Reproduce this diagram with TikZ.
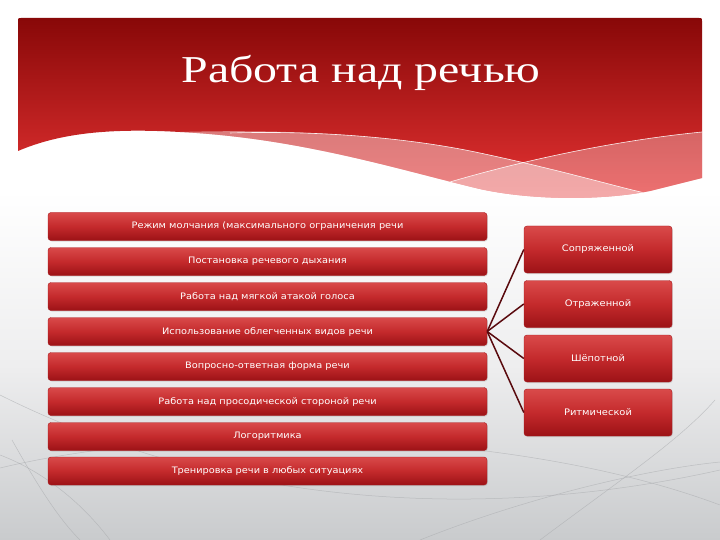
\documentclass[tikz,border=0pt]{standalone}
\usepackage{fontspec}
\setmainfont{Liberation Serif}
\newfontfamily\boxfont[FakeStretch=1.1]{DejaVu Sans}
\usetikzlibrary{shadows}
\definecolor{bgmid}{HTML}{EEEEEF}
\definecolor{bgbot}{HTML}{C9CBCD}
\definecolor{bantop}{HTML}{880808}
\definecolor{banbot}{HTML}{E83434}
\definecolor{boxtop}{HTML}{D94A4A}
\definecolor{boxmid}{HTML}{C42A2C}
\definecolor{boxbot}{HTML}{9C1216}
\definecolor{boxedge}{HTML}{A81A1E}
\definecolor{connc}{HTML}{5A0A0E}
\definecolor{arcc}{HTML}{A9ABAE}
\newcommand\bannerpath{(18,151) -- (18,21) .. controls (18,18) .. (21,18) -- (699,18) .. controls (702,18) .. (702,21) -- (702,178) -- (650,191) .. controls (600,201) and (530,200) .. (480,189) .. controls (400,170) and (300,138) .. (180,132) .. controls (110,128) and (60,133) .. (18,151) -- cycle}
\begin{document}
\begin{tikzpicture}[x=1pt,y=-1pt,
  redbox/.style={rounded corners=3pt, top color=boxtop, bottom color=boxbot, middle color=boxmid,
     draw=boxedge, line width=0.4pt, text=white, align=center, inner sep=0pt,
     drop shadow={opacity=0.25, shadow xshift=0.8pt, shadow yshift=-1pt}},
  leftbox/.style={redbox, minimum width=439pt, minimum height=28pt, font=\boxfont\fontsize{8.9}{10}\selectfont},
  rightbox/.style={redbox, minimum width=148pt, minimum height=47pt, font=\boxfont\fontsize{9}{11}\selectfont},
  conn/.style={draw=connc, line width=1.5pt},
  faint/.style={draw=arcc, line width=0.5pt, opacity=0.6}]
\useasboundingbox (0,0) rectangle (720,540);
% background
\fill[white] (0,0) rectangle (720,190);
\shade[top color=white, bottom color=bgbot, middle color=bgmid] (0,190) rectangle (720,540);
% faint arcs
\draw[faint] (0,468) .. controls (200,420) and (520,430) .. (720,505);
\draw[faint] (12,440) .. controls (40,490) and (60,520) .. (80,540);
\draw[faint] (540,540) .. controls (620,480) and (680,440) .. (715,400);
\draw[faint] (0,395) .. controls (250,520) and (520,515) .. (720,470);
\draw[faint] (110,540) .. controls (80,500) and (40,470) .. (0,455);
\draw[faint] (420,540) .. controls (520,500) and (640,470) .. (720,462);
% banner
\shade[top color=bantop, bottom color=banbot] \bannerpath;
\begin{scope}
  \clip \bannerpath;
  \fill[white, opacity=0.4] (180,132) .. controls (320,128) and (420,140) .. (480,153) .. controls (560,170) and (610,185) .. (645,193) -- (645,230) -- (100,230) -- cycle;
  \fill[white, opacity=0.3] (430,188) .. controls (520,160) and (620,140) .. (702,132) -- (720,132) -- (720,230) -- (430,230) -- cycle;
  \draw[white, line width=0.6pt, opacity=0.9] (230,133) .. controls (330,130) and (420,140) .. (480,153) .. controls (560,170) and (610,185) .. (645,193);
  \draw[white, line width=0.6pt, opacity=0.9] (430,188) .. controls (520,160) and (620,140) .. (702,132);
\end{scope}
\node[anchor=base, text=white, font=\fontsize{38}{44}\selectfont, xscale=1.26] (title) at (361,83) {Работа над речью};
% left boxes
\node[leftbox] (l1) at (267.5,226.5) {Режим молчания (максимального ограничения речи};
\node[leftbox] (l2) at (267.5,261.5) {Постановка речевого дыхания};
\node[leftbox] (l3) at (267.5,296.5) {Работа над мягкой атакой голоса};
\node[leftbox] (l4) at (267.5,331.5) {Использование облегченных видов речи};
\node[leftbox] (l5) at (267.5,366.5) {Вопросно-ответная форма речи};
\node[leftbox] (l6) at (267.5,401.5) {Работа над просодической стороной речи};
\node[leftbox] (l7) at (267.5,436.5) {Логоритмика};
\node[leftbox] (l8) at (267.5,471) {Тренировка речи в любых ситуациях};
% right boxes
\node[rightbox] (r1) at (598,249.5) {Сопряженной};
\node[rightbox] (r2) at (598,304) {Отраженной};
\node[rightbox] (r3) at (598,358.5) {Шёпотной};
\node[rightbox] (r4) at (598,412.5) {Ритмической};
% connectors
\draw[conn] (l4.east) -- (r1.west);
\draw[conn] (l4.east) -- (r2.west);
\draw[conn] (l4.east) -- (r3.west);
\draw[conn] (l4.east) -- (r4.west);
\end{tikzpicture}
\end{document}
